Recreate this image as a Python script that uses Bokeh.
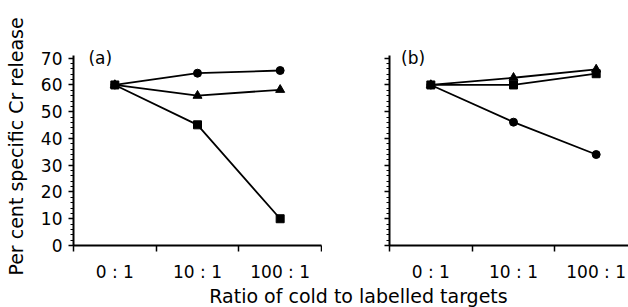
from bokeh.plotting import figure
from bokeh.layouts import row, column
from bokeh.models import FixedTicker, Range1d, Label
from bokeh.embed import file_html
from bokeh.resources import INLINE

# ---- data ----
categories = ["0 : 1", "10 : 1", "100 : 1"]
a_circle = [60, 64.4, 65.4]
a_triangle = [60, 56, 58.2]
a_square = [60, 45.1, 10]
b_circle = [60, 46.1, 34]
b_triangle = [60, 62.7, 65.8]
b_square = [60, 60, 64.2]
y_ticks = [0, 10, 20, 30, 40, 50, 60, 70]
y_minor = list(range(0, 71, 2))
panel_labels = ["(a)", "(b)"]
x_title = "Ratio of cold to labelled targets"
y_title = "Per cent specific Cr release"

xs = [i + 0.5 for i in range(len(categories))]
bounds = [i for i in range(len(categories) + 1)]

FONT = "DejaVu Sans"
H = 284


def make_panel(width, border_left, border_right, x_end, series, label, label_x, show_labels):
    p = figure(width=width, height=H, output_backend="svg", toolbar_location=None,
               title=None,
               x_range=Range1d(0, x_end), y_range=Range1d(0, 74),
               min_border_left=border_left, min_border_right=border_right,
               min_border_top=47, min_border_bottom=39)
    p.outline_line_color = None
    p.grid.visible = False
    p.background_fill_color = "white"
    p.border_fill_color = "white"

    xa = p.xaxis[0]
    xa.ticker = FixedTicker(ticks=xs, minor_ticks=bounds)
    xa.major_label_overrides = {x: c for x, c in zip(xs, categories)}
    xa.major_tick_out = 0
    xa.major_tick_in = 0
    xa.minor_tick_out = 6
    xa.minor_tick_in = 0
    xa.minor_tick_line_width = 1.5
    xa.axis_line_width = 2
    xa.major_label_standoff = 10
    xa.major_label_text_font = FONT
    xa.major_label_text_font_size = "17px"
    xa.major_label_text_color = "black"

    ya = p.yaxis[0]
    ya.bounds = (0, 71)
    ya.ticker = FixedTicker(ticks=y_ticks, minor_ticks=y_minor)
    ya.major_tick_out = 5
    ya.major_tick_in = 0
    ya.minor_tick_out = 3
    ya.minor_tick_in = 0
    ya.major_tick_line_width = 1.5
    ya.minor_tick_line_width = 1
    ya.axis_line_width = 2
    ya.major_label_standoff = 6
    ya.major_label_text_font = FONT
    ya.major_label_text_font_size = "17px"
    ya.major_label_text_color = "black"
    if show_labels:
        ya.axis_label = y_title
        ya.axis_label_text_font = FONT
        ya.axis_label_text_font_size = "19px"
        ya.axis_label_text_font_style = "normal"
        ya.axis_label_standoff = 11
        ya.axis_label_text_color = "black"
    else:
        ya.major_label_overrides = {t: "" for t in y_ticks}

    for vals, marker, size in series:
        p.line(xs, vals, line_color="black", line_width=1.8)
        p.scatter(xs, vals, marker=marker, size=size, fill_color="black", line_color="black")

    p.add_layout(Label(x=label_x, y=70, text=label, text_font=FONT, text_font_size="17px",
                       text_baseline="middle", text_align="left", text_color="black"))
    return p


p1 = make_panel(322, 73, 1, 3, [(a_circle, "circle", 8), (a_triangle, "triangle", 9),
                                (a_square, "square", 8)], panel_labels[0], 0.18, True)
p2 = make_panel(306, 67, 0, 239 / 82.67, [(b_circle, "circle", 8), (b_triangle, "triangle", 9),
                                          (b_square, "square", 8)], panel_labels[1], 0.14, False)

# full-width strip holding the shared x-axis title
p3 = figure(width=628, height=23, output_backend="svg", toolbar_location=None,
            title=None, x_axis_location=None, y_axis_location=None,
            x_range=Range1d(0, 628), y_range=Range1d(0, 23),
            min_border=0)
p3.grid.visible = False
p3.outline_line_color = None
p3.add_layout(Label(x=358, y=11.5, text=x_title, text_font=FONT, text_font_size="19px",
                    text_align="center", text_baseline="middle", text_color="black"))

layout = column(row(p1, p2), p3)

open("out.html", "w").write(file_html(layout, INLINE))
